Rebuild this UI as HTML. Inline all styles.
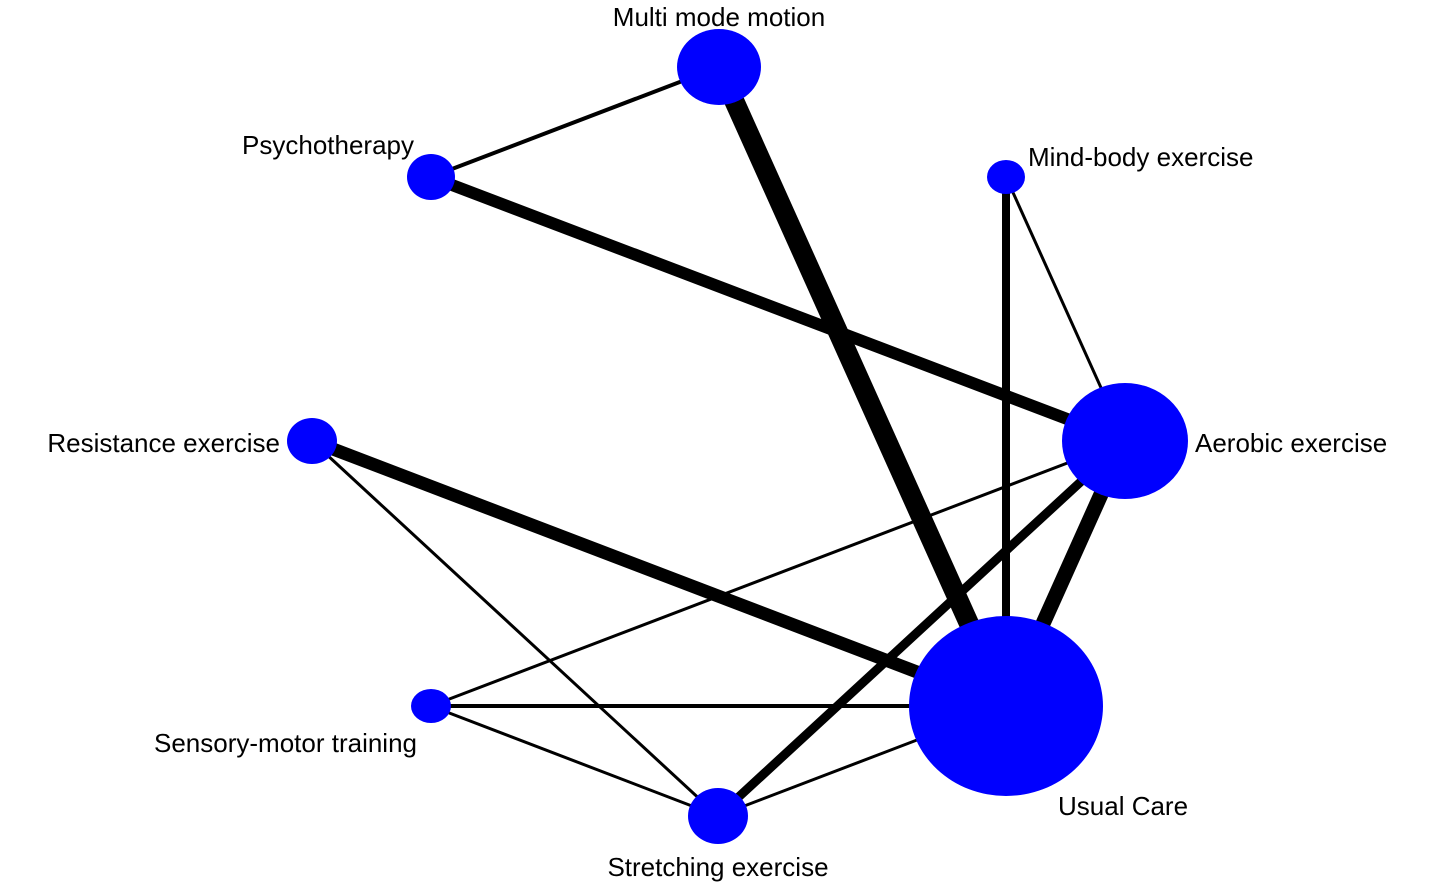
<!DOCTYPE html>
<html><head><meta charset="utf-8"><style>
html,body{margin:0;padding:0;background:#fff;}
svg{display:block;}
text{font-family:"Liberation Sans",Arial,sans-serif;font-size:26px;fill:#000;}
</style></head><body>
<svg width="1429" height="889" viewBox="0 0 1429 889" xmlns="http://www.w3.org/2000/svg">
<g stroke="#000" stroke-linecap="butt">
<line x1="719" y1="67" x2="431" y2="177" stroke-width="4"/>
<line x1="719" y1="67" x2="1006" y2="706" stroke-width="20"/>
<line x1="431" y1="177" x2="1125" y2="441" stroke-width="12"/>
<line x1="1006" y1="177" x2="1006" y2="706" stroke-width="8"/>
<line x1="1006" y1="177" x2="1125" y2="441" stroke-width="3"/>
<line x1="1125" y1="441" x2="1006" y2="706" stroke-width="15"/>
<line x1="1125" y1="441" x2="718" y2="816" stroke-width="9"/>
<line x1="1125" y1="441" x2="431" y2="706" stroke-width="3"/>
<line x1="312" y1="441" x2="1006" y2="706" stroke-width="13"/>
<line x1="312" y1="441" x2="718" y2="816" stroke-width="3"/>
<line x1="431" y1="706" x2="1006" y2="706" stroke-width="4"/>
<line x1="431" y1="706" x2="718" y2="816" stroke-width="3"/>
<line x1="718" y1="816" x2="1006" y2="706" stroke-width="3"/>
</g>
<g fill="#0000ff">
<ellipse cx="719" cy="67" rx="42" ry="38"/>
<ellipse cx="431" cy="177" rx="24" ry="23"/>
<ellipse cx="1006" cy="177" rx="19" ry="17"/>
<ellipse cx="312" cy="441" rx="25" ry="23"/>
<ellipse cx="1125" cy="441" rx="63" ry="58"/>
<ellipse cx="431" cy="706" rx="20" ry="17"/>
<ellipse cx="718" cy="816" rx="30" ry="28"/>
<ellipse cx="1006" cy="706" rx="97" ry="90"/>
</g>
<text x="719" y="26" text-anchor="middle">Multi mode motion</text>
<text x="414" y="154" text-anchor="end">Psychotherapy</text>
<text x="1028" y="166">Mind-body exercise</text>
<text x="280" y="452" text-anchor="end">Resistance exercise</text>
<text x="1195" y="452">Aerobic exercise</text>
<text x="417" y="752" text-anchor="end">Sensory-motor training</text>
<text x="718" y="876" text-anchor="middle">Stretching exercise</text>
<text x="1058" y="815">Usual Care</text>
</svg>
</body></html>
